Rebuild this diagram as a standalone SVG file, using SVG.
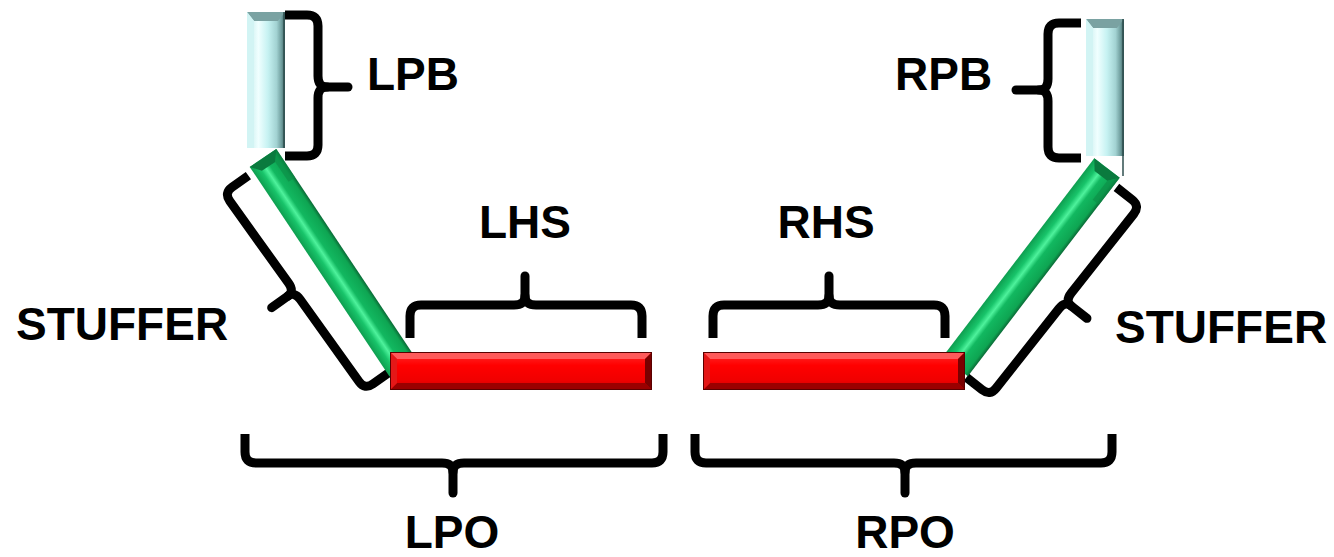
<svg xmlns="http://www.w3.org/2000/svg" width="1334" height="557" viewBox="0 0 1334 557">
<defs>
<linearGradient id="gG" x1="0" y1="0" x2="0" y2="1">
<stop offset="0" stop-color="#0a6a36"/>
<stop offset="0.12" stop-color="#0ea552"/>
<stop offset="0.45" stop-color="#12b860"/>
<stop offset="0.6" stop-color="#4ef29c"/>
<stop offset="0.76" stop-color="#18c46a"/>
<stop offset="1" stop-color="#0e9e50"/>
</linearGradient>
<linearGradient id="gB" x1="0" y1="0" x2="1" y2="0">
<stop offset="0" stop-color="#bfeaea"/>
<stop offset="0.3" stop-color="#f0ffff"/>
<stop offset="0.55" stop-color="#c6f2f2"/>
<stop offset="0.78" stop-color="#a2d2d2"/>
<stop offset="0.92" stop-color="#6a9898"/>
<stop offset="1" stop-color="#3a5a5a"/>
</linearGradient>
<linearGradient id="gR" x1="0" y1="0" x2="0" y2="1">
<stop offset="0" stop-color="#ff2a2a"/>
<stop offset="0.35" stop-color="#ff0000"/>
<stop offset="0.75" stop-color="#f00000"/>
<stop offset="1" stop-color="#cc0000"/>
</linearGradient>
</defs>
<style>
.br{fill:none;stroke:#000;stroke-width:9;stroke-linejoin:round;stroke-linecap:butt}
.tip{fill:none;stroke:#000;stroke-width:9;stroke-linecap:round}
.lbl{font-family:"Liberation Sans",Arial,sans-serif;font-weight:bold;font-size:46px;fill:#000}
.rf{fill:url(#gR);stroke:#5a0000;stroke-width:1}
.rt{fill:#ff5a5a}.rb{fill:#9a0000}.rl{fill:#e41818}.rr{fill:#7a0000}
</style>

<g id="connectors">
<g transform="matrix(0,1,-1,0,318,15)">
<path class="br" d="M0,33 V11 Q0,0 11,0 H61 Q72,0 72,-9 Q72,0 83,0 H130 Q141,0 141,11 V33"/>
<path class="tip" d="M72,-6 V-30"/>
</g>
<g transform="matrix(0,1,1,0,1048,23)">
<path class="br" d="M0,33 V11 Q0,0 11,0 H56 Q67,0 67,-9 Q67,0 78,0 H124 Q135,0 135,11 V33"/>
<path class="tip" d="M67,-6 V-32"/>
</g>
<g transform="matrix(0.582,0.813,0.813,-0.582,224,193)">
<path class="br" d="M0,30 V10 Q0,0 10,0 H111 Q121,0 121,-8 Q121,0 131,0 H232 Q242,0 242,10 V30"/>
<path class="tip" d="M121,-6 V-28"/>
</g>
<g transform="matrix(-0.62,0.785,-0.785,-0.62,1140,206)">
<path class="br" d="M0,30 V10 Q0,0 10,0 H111 Q121,0 121,-8 Q121,0 131,0 H232 Q242,0 242,10 V30"/>
<path class="tip" d="M121,-6 V-28"/>
</g>
<g transform="translate(410,305)">
<path class="br" d="M0,33 V11 Q0,0 11,0 H104 Q115,0 115,-9 Q115,0 126,0 H221 Q232,0 232,11 V33"/>
<path class="tip" d="M115,-6 V-29"/>
</g>
<g transform="translate(713,305)">
<path class="br" d="M0,33 V11 Q0,0 11,0 H105 Q116,0 116,-9 Q116,0 127,0 H221 Q232,0 232,11 V33"/>
<path class="tip" d="M116,-6 V-29"/>
</g>
<g transform="translate(245,463) scale(1,-1)">
<path class="br" d="M0,29 V11 Q0,0 11,0 H197 Q208,0 208,-9 Q208,0 219,0 H407 Q418,0 418,11 V29"/>
<path class="tip" d="M208,-6 V-30"/>
</g>
<g transform="translate(695,463) scale(1,-1)">
<path class="br" d="M0,29 V11 Q0,0 11,0 H199 Q210,0 210,-9 Q210,0 221,0 H406 Q417,0 417,11 V29"/>
<path class="tip" d="M210,-6 V-30"/>
</g>
</g>

<g id="left-stuffer-bar" transform="translate(263,158) rotate(56.3)">
<rect x="0" y="-16" width="252" height="32" fill="url(#gG)"/>
<polygon points="0,-16 0,16 10,8 10,-8" fill="#0a7a3e"/>
<polygon points="0,-16 10,-8 34,-8 34,-16" fill="#0b8c46" opacity="0.6"/>
</g>
<g id="right-stuffer-bar" transform="translate(1107,168) rotate(127.4)">
<rect x="0" y="-16" width="250" height="32" fill="url(#gG)"/>
<polygon points="0,-16 0,16 10,8 10,-8" fill="#0a7a3e"/>
<polygon points="0,-16 10,-8 34,-8 34,-16" fill="#0b8c46" opacity="0.6"/>
</g>

<g id="LPB-bar">
<rect x="247" y="12" width="38" height="136" fill="url(#gB)"/>
<polygon points="247,12 285,12 278,21 254,21" fill="#7aa2a2"/>
<polygon points="247,12 254,21 254,148 247,148" fill="#d2f4f4"/>
<line x1="284" y1="12" x2="284" y2="148" stroke="#2f4f4f" stroke-width="1.5"/>
</g>
<g id="RPB-bar">
<rect x="1086" y="19" width="38" height="137" fill="url(#gB)"/>
<polygon points="1086,19 1124,19 1117,28 1093,28" fill="#7aa2a2"/>
<polygon points="1086,19 1093,28 1093,156 1086,156" fill="#d2f4f4"/>
<line x1="1123" y1="19" x2="1123" y2="176" stroke="#2f4f4f" stroke-width="1.5"/>
</g>

<g id="LHS-bar">
<rect class="rf" x="390.5" y="352.5" width="261" height="37"/>
<polygon class="rt" points="391,353 651,353 645,359 397,359"/>
<polygon class="rb" points="391,389 651,389 645,383 397,383"/>
<polygon class="rl" points="391,353 397,359 397,383 391,389"/>
<polygon class="rr" points="651,353 645,359 645,383 651,389"/>
</g>
<g id="RHS-bar">
<rect class="rf" x="703.5" y="352.5" width="261" height="37"/>
<polygon class="rt" points="704,353 964,353 958,359 710,359"/>
<polygon class="rb" points="704,389 964,389 958,383 710,383"/>
<polygon class="rl" points="704,353 710,359 710,383 704,389"/>
<polygon class="rr" points="964,353 958,359 958,383 964,389"/>
</g>

<g id="labels">
<text class="lbl" x="367" y="90">LPB</text>
<text class="lbl" x="895" y="90">RPB</text>
<text class="lbl" x="16" y="340">STUFFER</text>
<text class="lbl" x="1115" y="343">STUFFER</text>
<text class="lbl" x="525" y="238" text-anchor="middle">LHS</text>
<text class="lbl" x="826" y="238" text-anchor="middle">RHS</text>
<text class="lbl" x="452" y="548" text-anchor="middle">LPO</text>
<text class="lbl" x="905" y="548" text-anchor="middle">RPO</text>
</g>
</svg>
